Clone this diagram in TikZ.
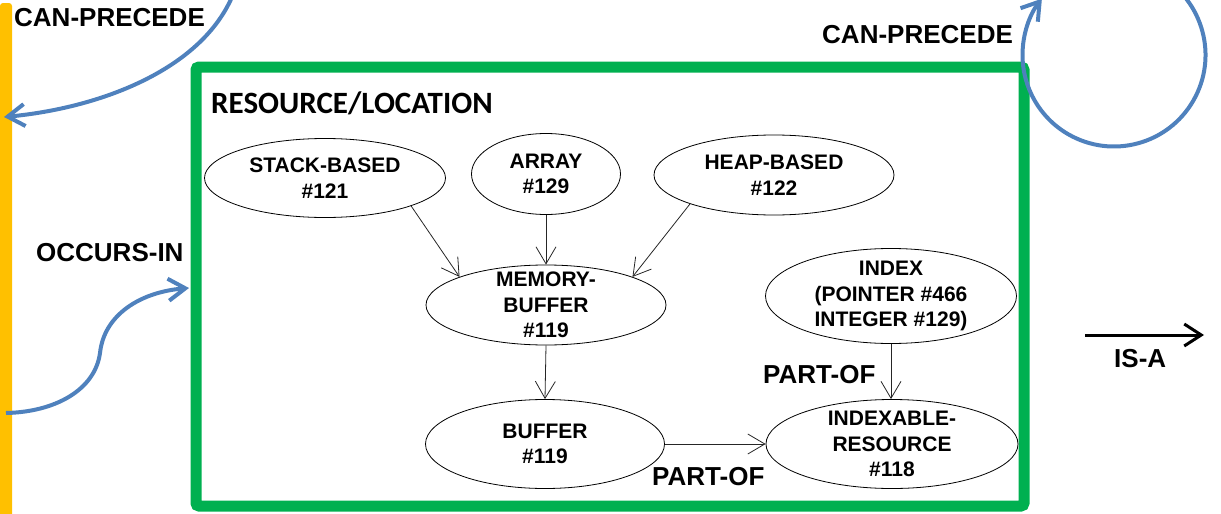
\documentclass[tikz,border=0pt]{standalone}
\usepackage{fontspec}
\setmainfont{Liberation Sans}
\newfontfamily\titlefont{Carlito}
\usetikzlibrary{arrows.meta,shapes.geometric}

\definecolor{boxgreen}{HTML}{00B050}
\definecolor{baryellow}{HTML}{FFC000}
\definecolor{relblue}{HTML}{4F81BD}

\tikzset{
  concept/.style={ellipse, draw=black, line width=0.8pt, inner xsep=0pt, inner ysep=-8pt,
    align=center, font=\fontsize{21}{25.5}\selectfont\bfseries},
  link/.style={draw=black!85, line width=0.8pt, -{Straight Barb[length=17pt,width=20pt]}},
  relation/.style={draw=relblue, line width=4pt, -{Straight Barb[length=17pt,width=22pt]}},
  isarrow/.style={draw=black, line width=3pt, -{Straight Barb[length=17pt,width=22pt]}},
  rellabel/.style={inner sep=0pt, anchor=base west, font=\fontsize{26}{30}\selectfont\bfseries},
}

\begin{document}
\begin{tikzpicture}[x=1pt,y=-1pt]
\useasboundingbox (0,0) rectangle (1221,514);
\clip (0,0) rectangle (1221,514);

% event bar on the left and the resource/location frame
\fill[baryellow, rounded corners=3pt] (0,3) rectangle (12,530);
\draw[boxgreen, line width=11pt, rounded corners=3pt] (196,67) rectangle (1024,506);

% concepts
\node[concept, minimum width=241pt, minimum height=79pt] (stack) at (325,178) {STACK-BASED\\\#121};
\node[concept, minimum width=149pt, minimum height=81pt] (array) at (546,174) {ARRAY\\\#129};
\node[concept, minimum width=240pt, minimum height=80pt] (heap) at (774,175) {HEAP-BASED\\\#122};
\node[concept, minimum width=240pt, minimum height=80pt] (membuf) at (546,305) {MEMORY-\\BUFFER\\\#119};
\node[concept, minimum width=239pt, minimum height=89pt] (buffer) at (545,444) {BUFFER\\\#119};
\node[concept, minimum width=251pt, minimum height=95pt] (index) at (891,296) {INDEX\\(POINTER \#466\\INTEGER \#129)};
\node[concept, minimum width=252pt, minimum height=89pt] (idxres) at (892,444) {INDEXABLE-\\RESOURCE\\\#118};

% is-a / part-of links
\draw[link] (stack.-18) -- (membuf.162);
\draw[link] (array.south) -- (membuf.north);
\draw[link] (heap.199) -- (membuf.18);
\draw[link] (membuf.south) -- (buffer.north);
\draw[link] (buffer.east) -- (idxres.west);
\draw[link] (index.south) -- (index.south |- idxres.north);

% labels
\node[anchor=base west, inner sep=0pt, font=\titlefont\fontsize{31}{36}\selectfont\bfseries] (title) at (211,113) {RESOURCE/LOCATION};
\node[rellabel] (cpL) at (14,27) {CAN-PRECEDE};
\node[rellabel] (cpR) at (822,43) {CAN-PRECEDE};
\node[rellabel] (occ) at (36,261) {OCCURS-IN};
\node[rellabel] (partA) at (763,383) {PART-OF};
\node[rellabel] (partB) at (652,485) {PART-OF};
\node[rellabel] (isa) at (1114,367) {IS-A};

% relations between the event bar and the frame
\coordinate (loopA) at (232,-3);
\coordinate (barTop) at (4,117);
\draw[relation] (loopA) .. controls (200,70) and (100,108) .. (barTop);

\coordinate (barLow) at (6,413);
\coordinate (boxLeft) at (189,288);
\draw[relation] (barLow) .. controls (55,412) and (95,390) .. (100,353)
  .. controls (104,315) and (140,292) .. (boxLeft);

\coordinate (loopC) at (1114,55);
\draw[relation] (loopC) ++(60:91.5pt) arc[start angle=60, end angle=-218, radius=91.5pt];

% legend arrow
\coordinate (isaFrom) at (1085,335);
\coordinate (isaTo) at (1204,335);
\draw[isarrow] (isaFrom) -- (isaTo);
\end{tikzpicture}
\end{document}
